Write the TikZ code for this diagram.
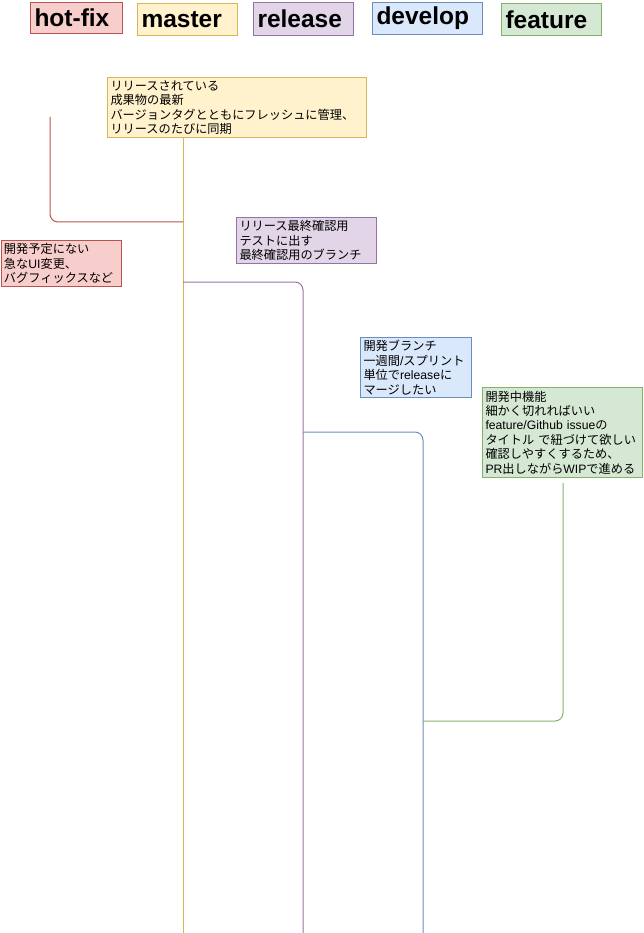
\documentclass[tikz,border=0pt]{standalone}
\usepackage{fontspec}
\setmainfont{Liberation Sans}
\newfontfamily\jpfont{Noto Sans CJK JP}
\newfontfamily\latinfont{Liberation Sans}
\newcommand\lsf[1]{{\latinfont #1}}
\definecolor{redfill}{HTML}{F8CECC}\definecolor{redline}{HTML}{B85450}
\definecolor{yelfill}{HTML}{FFF2CC}\definecolor{yelline}{HTML}{D6B656}
\definecolor{purfill}{HTML}{E1D5E7}\definecolor{purline}{HTML}{9673A6}
\definecolor{blufill}{HTML}{DAE8FC}\definecolor{bluline}{HTML}{6C8EBF}
\definecolor{grnfill}{HTML}{D5E8D4}\definecolor{grnline}{HTML}{82B366}
\tikzset{
  header/.style={draw=#1line, fill=#1fill, line width=1pt, anchor=north west,
    inner sep=0pt, inner xsep=4pt, align=left,
    font=\bfseries\fontsize{24.5}{27}\selectfont},
  note/.style={draw=#1line, fill=#1fill, line width=1pt, anchor=north west,
    inner sep=0pt, inner xsep=3pt, align=left,
    font=\jpfont\fontsize{12.2}{14.4}\selectfont},
  branch/.style={draw=#1line, line width=1pt, rounded corners=8pt},
}
\begin{document}
\begin{tikzpicture}[x=1pt,y=-1pt]
\useasboundingbox (0,0) rectangle (643,933);

% branch labels
\node[header=red, minimum width=92pt, minimum height=31pt, text width=84pt] (hhot) at (30,2) {\raisebox{-1.5pt}{hot-fix}};
\node[header=yel, minimum width=100pt, minimum height=32pt, text width=92pt] (hmas) at (137,3) {\raisebox{-1.5pt}{master}};
\node[header=pur, minimum width=100pt, minimum height=33pt, text width=92pt] (hrel) at (253,2) {\raisebox{-1.5pt}{release}};
\node[header=blu, minimum width=110pt, minimum height=32pt, text width=102pt] (hdev) at (372,2) {\raisebox{-1.5pt}{develop}};
\node[header=grn, minimum width=100pt, minimum height=32pt, text width=92pt] (hfea) at (501,3) {\raisebox{-1.5pt}{feature}};

% descriptions
\node[note=yel, minimum width=259pt, minimum height=60pt, text width=253pt] (nmas) at (107,77)
  {リリースされている\\成果物の最新\\バージョンタグとともにフレッシュに管理、\\リリースのたびに同期};
\node[note=red, minimum width=120pt, minimum height=46pt, text width=114pt] (nhot) at (0.5,240)
  {開発予定にない\\急な\lsf{UI}変更、\\バグフィックスなど};
\node[note=pur, minimum width=140pt, minimum height=46pt, text width=134pt] (nrel) at (236,217)
  {リリース最終確認用\\テストに出す\\最終確認用のブランチ};
\node[note=blu, minimum width=111pt, minimum height=60pt, text width=105pt] (ndev) at (360,337)
  {開発ブランチ\\一週間\lsf{/}スプリント\\単位で\lsf{release}に\\マージしたい};
\node[note=grn, minimum width=160pt, minimum height=90pt, text width=154pt] (nfea) at (482,387)
  {開発中機能\\細かく切れればいい\\\lsf{feature/Github issue}の\\タイトル で紐づけて欲しい\\確認しやすくするため、\\\lsf{PR}出しながら\lsf{WIP}で進める};

% branch lines
\coordinate (mtop) at (183,137);
\coordinate (mbot) at (183,933);
\coordinate (mhot) at (183,222);
\coordinate (mrel) at (183,282);
\coordinate (htop) at (50,117);
\coordinate (rbot) at (303,933);
\coordinate (rdev) at (303,432);
\coordinate (dbot) at (423,933);
\coordinate (dfea) at (423,721);
\coordinate (ftop) at (563,483);

\draw[branch=yel] (mtop) -- (mbot);
\draw[branch=red] (htop) |- (mhot);
\draw[branch=pur] (mrel) -| (rbot);
\draw[branch=blu] (rdev) -| (dbot);
\draw[branch=grn] (ftop) |- (dfea);
\end{tikzpicture}
\end{document}
